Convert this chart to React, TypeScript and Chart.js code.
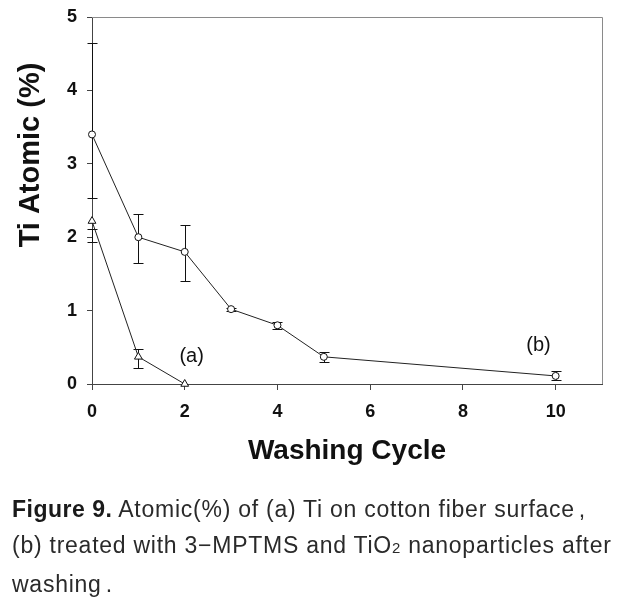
import React, { useEffect, useRef } from 'react';
import { Chart, registerables } from 'chart.js';
Chart.register(...registerables);

// Series (a): Ti on cotton fiber surface
const cyclesA = [0, 1, 2];
const tiA = [2.22, 0.37, 0.0];
const errLowA = [1.93, 0.22, 0.0];
const errHighA = [2.11, 0.48, 0.0];

// Series (b): treated with 3-MPTMS and TiO2 nanoparticles
const cyclesB = [0, 1, 2, 3, 4, 5, 10];
const tiB = [3.4, 2.0, 1.8, 1.02, 0.8, 0.37, 0.11];
const errLowB = [2.53, 1.65, 1.4, 1.0, 0.75, 0.3, 0.05];
const errHighB = [4.65, 2.31, 2.17, 1.04, 0.84, 0.43, 0.18];

const xTicks = [0, 2, 4, 6, 8, 10];
const yTicks = [0, 1, 2, 3, 4, 5];

const seriesTags = ['(a)', '(b)'];
const tagX = [2.15, 9.63];
const tagY = [0.37, 0.53];

const xTitle = 'Washing Cycle';
const yTitle = 'Ti Atomic (%)';

const overlay = {
  id: 'overlay',
  beforeDatasetsDraw(chart: any) {
    const { ctx, scales } = chart;
    const x = scales.x, y = scales.y;
    ctx.save();
    ctx.strokeStyle = '#111';
    ctx.lineWidth = 1;
    const drawErr = (xs: number[], lo: number[], hi: number[]) => {
      xs.forEach((v, i) => {
        if (hi[i] - lo[i] <= 0) return;
        const px = Math.round(x.getPixelForValue(v)) + 0.5;
        const p1 = Math.round(y.getPixelForValue(lo[i])) + 0.5;
        const p2 = Math.round(y.getPixelForValue(hi[i])) + 0.5;
        ctx.beginPath();
        ctx.moveTo(px, p1); ctx.lineTo(px, p2);
        ctx.moveTo(px - 5, p1); ctx.lineTo(px + 5, p1);
        ctx.moveTo(px - 5, p2); ctx.lineTo(px + 5, p2);
        ctx.stroke();
      });
    };
    drawErr(cyclesB, errLowB, errHighB);
    drawErr(cyclesA, errLowA, errHighA);
    ctx.restore();
  },
  afterDraw(chart: any) {
    const { ctx, chartArea, scales } = chart;
    const x = scales.x, y = scales.y;
    ctx.save();
    // frame top and right
    ctx.lineWidth = 1;
    ctx.strokeStyle = '#8a8a8a';
    ctx.beginPath();
    ctx.moveTo(chartArea.left, Math.round(chartArea.top) + 0.5);
    ctx.lineTo(Math.round(chartArea.right) + 0.5, Math.round(chartArea.top) + 0.5);
    ctx.lineTo(Math.round(chartArea.right) + 0.5, chartArea.bottom);
    ctx.stroke();
    // series tags
    ctx.fillStyle = '#111';
    ctx.font = '20px "Liberation Sans", Arial, sans-serif';
    ctx.textAlign = 'center';
    ctx.textBaseline = 'middle';
    seriesTags.forEach((t, i) => {
      ctx.fillText(t, x.getPixelForValue(tagX[i]), y.getPixelForValue(tagY[i]));
    });
    // y title
    ctx.font = 'bold 29px "Liberation Sans", Arial, sans-serif';
    ctx.translate(31, 155);
    ctx.rotate(-Math.PI / 2);
    ctx.fillText(yTitle, 0, 0);
    ctx.restore();
  },
};

export default function App() {
  const ref = useRef<HTMLCanvasElement>(null);
  useEffect(() => {
    const canvas = ref.current;
    if (!canvas) return;
    const chart = new Chart(canvas, {
      type: 'line',
      data: {
        datasets: [
          {
            label: '(b)',
            data: cyclesB.map((c, i) => ({ x: c, y: tiB[i] })),
            borderColor: '#222',
            borderWidth: 1,
            pointStyle: 'circle',
            pointRadius: 3.5,
            pointBorderWidth: 1,
            pointBorderColor: '#111',
            pointBackgroundColor: '#fff',
            clip: false,
          },
          {
            label: '(a)',
            data: cyclesA.map((c, i) => ({ x: c, y: tiA[i] })),
            borderColor: '#222',
            borderWidth: 1,
            pointStyle: 'triangle',
            pointRadius: 4.5,
            pointBorderWidth: 1,
            pointBorderColor: '#111',
            pointBackgroundColor: '#fff',
            clip: false,
          },
        ],
      },
      options: {
        animation: false,
        responsive: false,
        events: [],
        layout: { padding: { top: 17, right: 31, left: 0, bottom: 0 } },
        plugins: { legend: { display: false }, tooltip: { enabled: false } },
        scales: {
          x: {
            type: 'linear',
            min: 0,
            max: 11,
            afterBuildTicks: (s: any) => { s.ticks = xTicks.map((v) => ({ value: v })); },
            afterFit: (s: any) => { s.height = 86; s.paddingLeft = 0; s.paddingRight = 0; },
            grid: { display: true, drawOnChartArea: false, drawTicks: true, tickLength: 6, color: '#444' },
            border: { display: true, color: '#444', width: 1 },
            ticks: {
              color: '#111',
              padding: 11,
              font: { family: '"Liberation Sans", Arial, sans-serif', size: 18, weight: 'bold' },
            },
            title: {
              display: true,
              text: xTitle,
              color: '#111',
              padding: { top: 0, bottom: 2 },
              font: { family: '"Liberation Sans", Arial, sans-serif', size: 28, weight: 'bold' },
            },
          },
          y: {
            type: 'linear',
            min: 0,
            max: 5,
            afterBuildTicks: (s: any) => { s.ticks = yTicks.map((v) => ({ value: v })); },
            afterFit: (s: any) => { s.width = 92; s.paddingTop = 0; s.paddingBottom = 0; },
            grid: { display: true, drawOnChartArea: false, drawTicks: true, tickLength: 5, color: '#444' },
            border: { display: true, color: '#444', width: 1 },
            ticks: {
              color: '#111',
              padding: 10,
              font: { family: '"Liberation Sans", Arial, sans-serif', size: 18, weight: 'bold' },
            },
          },
        },
      } as any,
      plugins: [overlay],
    });
    return () => chart.destroy();
  }, []);

  return (
    <div style={{ position: 'fixed', left: 0, top: 0, width: 633, height: 599, background: '#fff' }}>
      <canvas ref={ref} width={633} height={470} style={{ display: 'block', width: 633, height: 470 }} />
      <div
        style={{
          position: 'absolute',
          left: 12,
          top: 491,
          width: 621,
          fontFamily: '"Liberation Sans", Arial, sans-serif',
          fontSize: 23,
          lineHeight: '36px',
          letterSpacing: '0.75px',
          color: '#2a2a2a',
          whiteSpace: 'nowrap',
        }}
      >
        <div>
          <span style={{ fontWeight: 'bold', color: '#1a1a1a', letterSpacing: '0.5px' }}>Figure 9.</span> Atomic(%) of (a) Ti on cotton fiber surface<span style={{ marginLeft: 4 }}>,</span>
        </div>
        <div>
          (b) treated with 3−MPTMS and TiO<span style={{ fontSize: '65%' }}>2</span> nanoparticles after
        </div>
        <div>washing<span style={{ marginLeft: 4 }}>.</span></div>
      </div>
    </div>
  );
}
